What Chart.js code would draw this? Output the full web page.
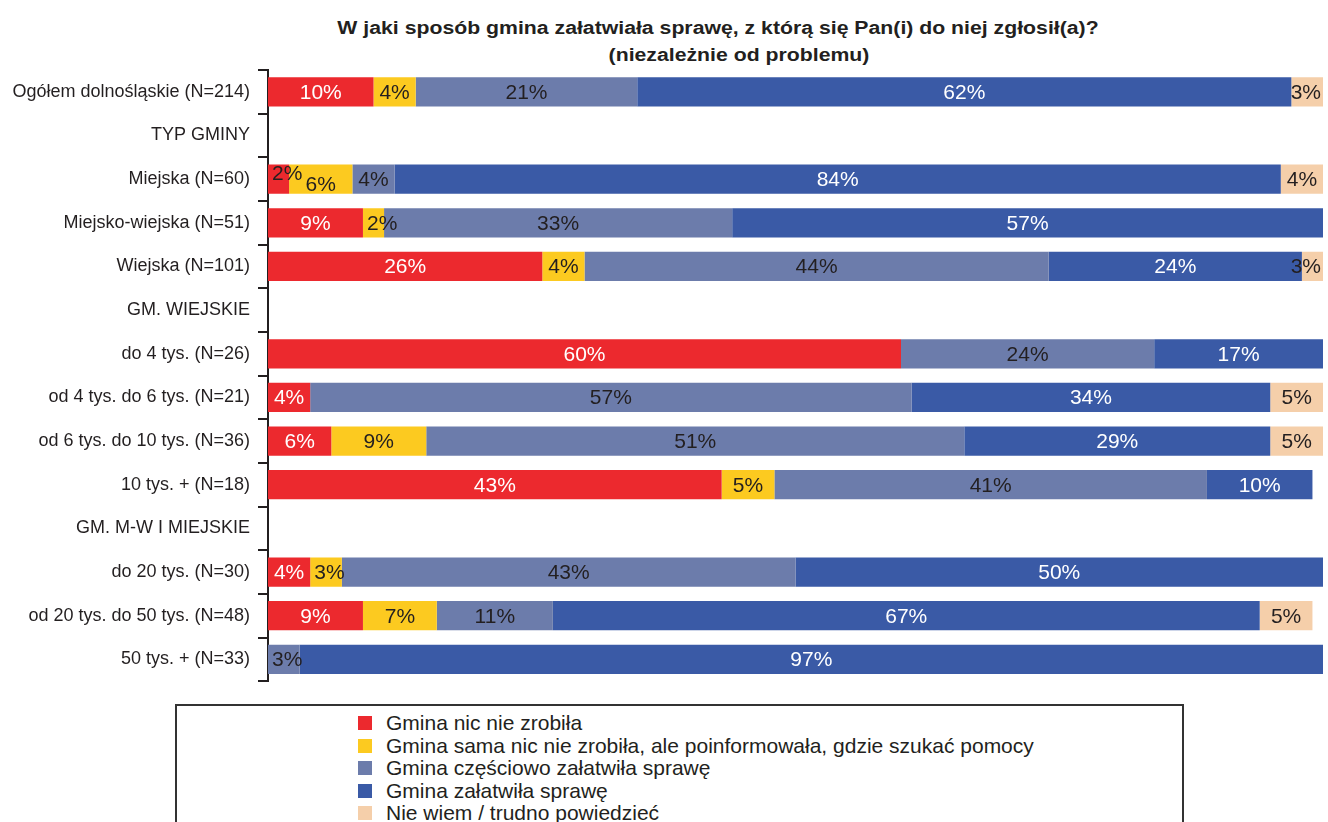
<!DOCTYPE html>
<html lang="pl">
<head>
<meta charset="utf-8">
<title>Sposób załatwienia sprawy przez gminę</title>
<script src="https://cdn.jsdelivr.net/npm/chart.js@4/dist/chart.umd.min.js"></script>
<style>
    body { margin: 0; background: #fff; }
    #wrap { position: relative; width: 1328px; height: 822px; overflow: hidden; background: #fff; }
    .titleLine {
        position: absolute; left: 0; width: 1328px; white-space: nowrap;
        text-align: center; font: bold 18px "Liberation Sans", Arial, sans-serif;
        line-height: 26px; color: #231f20; transform: scaleX(1.18);
    }
    #chartBox { position: absolute; left: 0; top: 0; width: 1328px; height: 700px; }
    #customLegend {
        position: absolute; left: 175px; top: 704px; width: 1009px; height: 140px;
        border: 2px solid #333; box-sizing: border-box; padding: 6px 0 0 181px;
    }
</style>
</head>
<body>
<div id="wrap">
    <div class="titleLine" style="top:15px; left:54px;">W jaki sposób gmina załatwiała sprawę, z którą się Pan(i) do niej zgłosił(a)?</div>
    <div class="titleLine" style="top:42px; left:75px;">(niezależnie od problemu)</div>
    <div id="chartBox"><canvas id="primaryChart" width="1328" height="700"></canvas></div>
    <div id="customLegend"></div>
</div>
<script>
const categories = [
    "Ogółem dolnośląskie (N=214)",
    "TYP GMINY",
    "Miejska (N=60)",
    "Miejsko-wiejska (N=51)",
    "Wiejska (N=101)",
    "GM. WIEJSKIE",
    "do 4 tys. (N=26)",
    "od 4 tys. do 6 tys. (N=21)",
    "od 6 tys. do 10 tys. (N=36)",
    "10 tys. + (N=18)",
    "GM. M-W I MIEJSKIE",
    "do 20 tys. (N=30)",
    "od 20 tys. do 50 tys. (N=48)",
    "50 tys. + (N=33)"
];

const seriesNames = [
    "Gmina nic nie zrobiła",
    "Gmina sama nic nie zrobiła, ale poinformowała, gdzie szukać pomocy",
    "Gmina częściowo załatwiła sprawę",
    "Gmina załatwiła sprawę",
    "Nie wiem / trudno powiedzieć"
];

// percentages per row, null = header row or no answers
const nicNieZrobila  = [10, null, 2, 9, 26, null, 60, 4, 6, 43, null, 4, 9, null];
const poinformowala  = [4, null, 6, 2, 4, null, null, null, 9, 5, null, 3, 7, null];
const czesciowo      = [21, null, 4, 33, 44, null, 24, 57, 51, 41, null, 43, 11, 3];
const zalatwila      = [62, null, 84, 57, 24, null, 17, 34, 29, 10, null, 50, 67, 97];
const nieWiem        = [3, null, 4, null, 3, null, null, 5, 5, null, null, null, 5, null];

const seriesValues = [nicNieZrobila, poinformowala, czesciowo, zalatwila, nieWiem];
const colors = ["#ec292e", "#fcca20", "#6c7cab", "#3a5aa6", "#f5cfaa"];
const labelColors = ["#ffffff", "#231f20", "#231f20", "#ffffff", "#231f20"];

const FONT = "'Liberation Sans', Arial, sans-serif";
const DARK = "#231f20";

// percent labels inside the segments
const barLabels = {
    id: "barLabels",
    afterDatasetsDraw(chart) {
        const ctx = chart.ctx;
        const area = chart.chartArea;
        ctx.save();
        ctx.font = "21px " + FONT;
        ctx.textBaseline = "middle";
        ctx.textAlign = "left";

        const rows = {};
        chart.data.datasets.forEach((ds, di) => {
            const meta = chart.getDatasetMeta(di);
            meta.data.forEach((bar, i) => {
                const v = ds.data[i];
                if (v === null || v === undefined || v === 0) return;
                const text = v + "%";
                const w = ctx.measureText(text).width;
                const left = Math.min(bar.base, bar.x);
                const right = Math.min(Math.max(bar.base, bar.x), area.right);
                let x, color, narrow = false;
                if (w + 2 > right - left) {
                    narrow = true;
                    color = DARK;
                    x = Math.min(left + 4, area.right - w - 2);
                } else {
                    x = (left + right) / 2 - w / 2;
                    color = labelColors[di];
                }
                (rows[i] = rows[i] || []).push({ text, x, w, y: bar.y, color, narrow, dy: 0 });
            });
        });

        Object.values(rows).forEach(items => {
            // a narrow label spilling next to its neighbour gets nudged apart vertically
            for (let k = 0; k < items.length - 1; k++) {
                const a = items[k], b = items[k + 1];
                if (a.narrow && a.x + a.w + 10 > b.x) { a.dy = -6; b.dy = 5; }
            }
            items.forEach(it => {
                ctx.fillStyle = it.color;
                ctx.fillText(it.text, it.x, it.y + it.dy + 1);
            });
        });
        ctx.restore();
    }
};

const ctx = document.getElementById("primaryChart").getContext("2d");

const chart = new Chart(ctx, {
    type: "bar",
    data: {
        labels: categories,
        datasets: seriesValues.map((vals, i) => ({
            label: seriesNames[i],
            data: vals,
            backgroundColor: colors[i],
            borderWidth: 0,
            barPercentage: 0.67,
            categoryPercentage: 1,
            clip: 0
        }))
    },
    options: {
        indexAxis: "y",
        responsive: false,
        animation: false,
        devicePixelRatio: 1,
        layout: { padding: { top: 70, right: 5, bottom: 5, left: 0 } },
        scales: {
            x: {
                stacked: true,
                min: 0,
                max: 100,
                display: false
            },
            y: {
                stacked: true,
                afterFit: scale => { scale.width = 268; },
                grid: {
                    offset: true,
                    drawOnChartArea: false,
                    drawTicks: true,
                    tickLength: 10,
                    color: "#231f20",
                    lineWidth: 2
                },
                border: { display: true, color: "#231f20", width: 2 },
                ticks: {
                    padding: 8,
                    color: DARK,
                    font: { family: FONT, size: 18 }
                }
            }
        },
        plugins: {
            legend: { display: false },
            tooltip: { enabled: false },
            title: { display: false }
        }
    },
    plugins: [barLabels]
});

function renderCustomLegend(labels, colors) {
    const container = document.getElementById("customLegend");
    container.innerHTML = "";

    labels.forEach((label, i) => {
        const item = document.createElement("div");
        item.style.display = "flex";
        item.style.alignItems = "center";
        item.style.height = "22.5px";

        const box = document.createElement("div");
        box.style.width = "14px";
        box.style.height = "14px";
        box.style.backgroundColor = colors[i];
        box.style.marginRight = "14px";
        box.style.flex = "none";

        const text = document.createElement("span");
        text.textContent = label;
        text.style.color = DARK;
        text.style.fontSize = "21px";
        text.style.fontFamily = FONT;
        text.style.whiteSpace = "nowrap";

        item.appendChild(box);
        item.appendChild(text);
        container.appendChild(item);
    });
}

renderCustomLegend(seriesNames, colors);
</script>
</body>
</html>
